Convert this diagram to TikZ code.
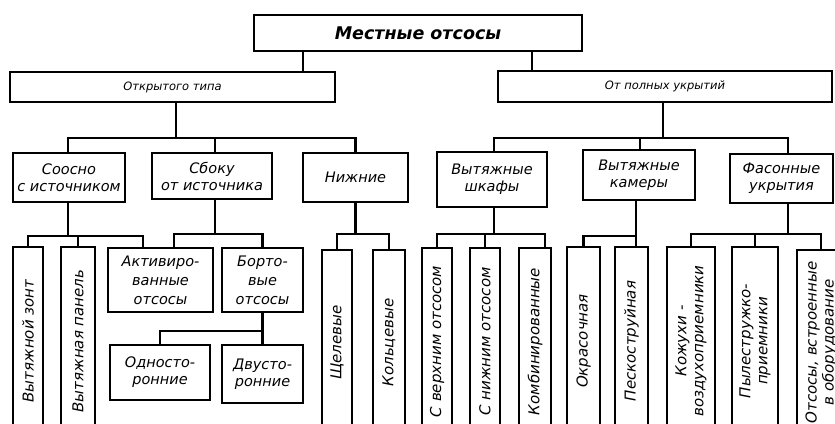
\documentclass[tikz,border=0pt]{standalone}
\usepackage{fontspec}
\setmainfont{DejaVu Sans}[ItalicFont={DejaVu Sans Oblique},BoldItalicFont={DejaVu Sans Bold Oblique}]
\begin{document}
\begin{tikzpicture}[x=1pt, y=-1pt,
    box/.style={draw, line width=2pt, inner sep=1pt, align=center,
      font=\fontsize{14.5}{17}\selectfont\itshape},
    leaf/.style={box, rotate=90, font=\fontsize{15}{17}\selectfont\itshape},
    link/.style={line width=2.4pt}]
    \useasboundingbox (0,0) rectangle (835,423);
    \clip (0,0) rectangle (835,423);
    % корень и два главных класса
    \node[box, minimum width=328, minimum height=36, font=\fontsize{17.5}{19}\selectfont\bfseries\itshape] (root) at (418,33) {Местные отсосы};
    \node[box, minimum width=325, minimum height=30, font=\fontsize{11.5}{13}\selectfont\itshape] (open) at (172.5,87) {Открытого типа};
    \node[box, minimum width=334, minimum height=31, font=\fontsize{11.5}{13}\selectfont\itshape] (full) at (665,86.5) {От полных укрытий};
    % второй уровень
    \node[box, minimum width=112, minimum height=49] (coax)   at (69,177.5)    {Соосно\\с источником};
    \node[box, minimum width=120, minimum height=46] (side)   at (212,176)     {Сбоку\\от источника};
    \node[box, minimum width=105, minimum height=49] (under)  at (355.5,177.5) {Нижние};
    \node[box, minimum width=110, minimum height=55] (cab)    at (492,179.5)   {Вытяжные\\шкафы};
    \node[box, minimum width=112, minimum height=50] (cham)   at (639,175)     {Вытяжные\\камеры};
    \node[box, minimum width=103, minimum height=49] (shaped) at (781.5,178.5) {Фасонные\\укрытия};
    % боковые отсосы
    \node[box, minimum width=105, minimum height=64, font=\fontsize{14.5}{19}\selectfont\itshape] (act)  at (160.5,280) {Активиро-\\ванные\\отсосы};
    \node[box, minimum width=81,  minimum height=64, font=\fontsize{14.5}{19}\selectfont\itshape] (bort) at (262.5,280) {Борто-\\вые\\отсосы};
    \node[box, minimum width=100, minimum height=55] (one) at (160,372.5) {Односто-\\ронние};
    \node[box, minimum width=81,  minimum height=58] (two) at (262.5,374) {Двусто-\\ронние};
    % нижний ряд (уходит за край)
    \node[leaf, minimum width=188, minimum height=30] (zont)  at (28,341)      {Вытяжной зонт};
    \node[leaf, minimum width=188, minimum height=34] (panel) at (78,341)      {Вытяжная панель};
    \node[leaf, minimum width=185, minimum height=30] (slit)  at (337,342.5)   {Щелевые};
    \node[leaf, minimum width=185, minimum height=32] (ring)  at (389,342.5)   {Кольцевые};
    \node[leaf, minimum width=187, minimum height=30] (upper) at (437,341.5)   {С верхним отсосом};
    \node[leaf, minimum width=187, minimum height=30] (lower) at (485,341.5)   {С нижним отсосом};
    \node[leaf, minimum width=187, minimum height=32] (comb)  at (535,341.5)   {Комбинированные};
    \node[leaf, minimum width=188, minimum height=33] (paint) at (583.5,341)   {Окрасочная};
    \node[leaf, minimum width=188, minimum height=33] (sand)  at (631.5,341)   {Пескоструйная};
    \node[leaf, minimum width=188, minimum height=48] (cas)   at (691,341)     {Кожухи -\\воздухоприемники};
    \node[leaf, minimum width=188, minimum height=46] (dust)  at (755,341)     {Пылестружко-\\приемники};
    \node[leaf, minimum width=185, minimum height=48] (built) at (821,342.5)   {Отсосы, встроенные\\в оборудование};
    % связи
    \draw[link] ([xshift=-115pt]root.south) -- ([xshift=-115pt]root.south |- open.north);
    \draw[link] ([xshift=114pt]root.south) -- ([xshift=114pt]root.south |- full.north);
    \foreach \c/\d in {coax/-1, side/3, under/0}
      \draw[link] ([xshift=3.5pt]open.south) -- ++(0,35) -| ([xshift=\d pt]\c.north);
    \foreach \c/\d in {cab/2, cham/1, shaped/6.5}
      \draw[link] ([xshift=-2pt]full.south) -- ++(0,35) -| ([xshift=\d pt]\c.north);
    \foreach \c in {zont, panel}
      \draw[link] ([xshift=-1pt]coax.south) -- ++(0,33) -| (\c.east);
    \draw[link] ([xshift=-1pt]coax.south) -- ++(0,33) -| ([xshift=-17.5pt]act.north);
    \draw[link] ([xshift=3pt]side.south) -- ++(0,34) -| ([xshift=13.5pt]act.north);
    \draw[link] ([xshift=3pt]side.south) -- ++(0,34) -| (bort.north);
    \foreach \c in {one, two}
      \draw[link] (bort.south) -- ++(0,18) -| (\c.north);
    \foreach \c in {slit, ring}
      \draw[link] (under.south) -- ++(0,31) -| (\c.east);
    \foreach \c/\d in {upper/0, lower/0, comb/10}
      \draw[link] ([xshift=2pt]cab.south) -- ++(0,26) -| ([xshift=\d pt]\c.east);
    \foreach \c/\d in {paint/0, sand/4.5}
      \draw[link] ([xshift=-3pt]cham.south) -- ++(0,35) -| ([xshift=\d pt]\c.east);
    \foreach \c in {cas, dust, built}
      \draw[link] ([xshift=6.5pt]shaped.south) -- ++(0,30) -| (\c.east);
\end{tikzpicture}
\end{document}
